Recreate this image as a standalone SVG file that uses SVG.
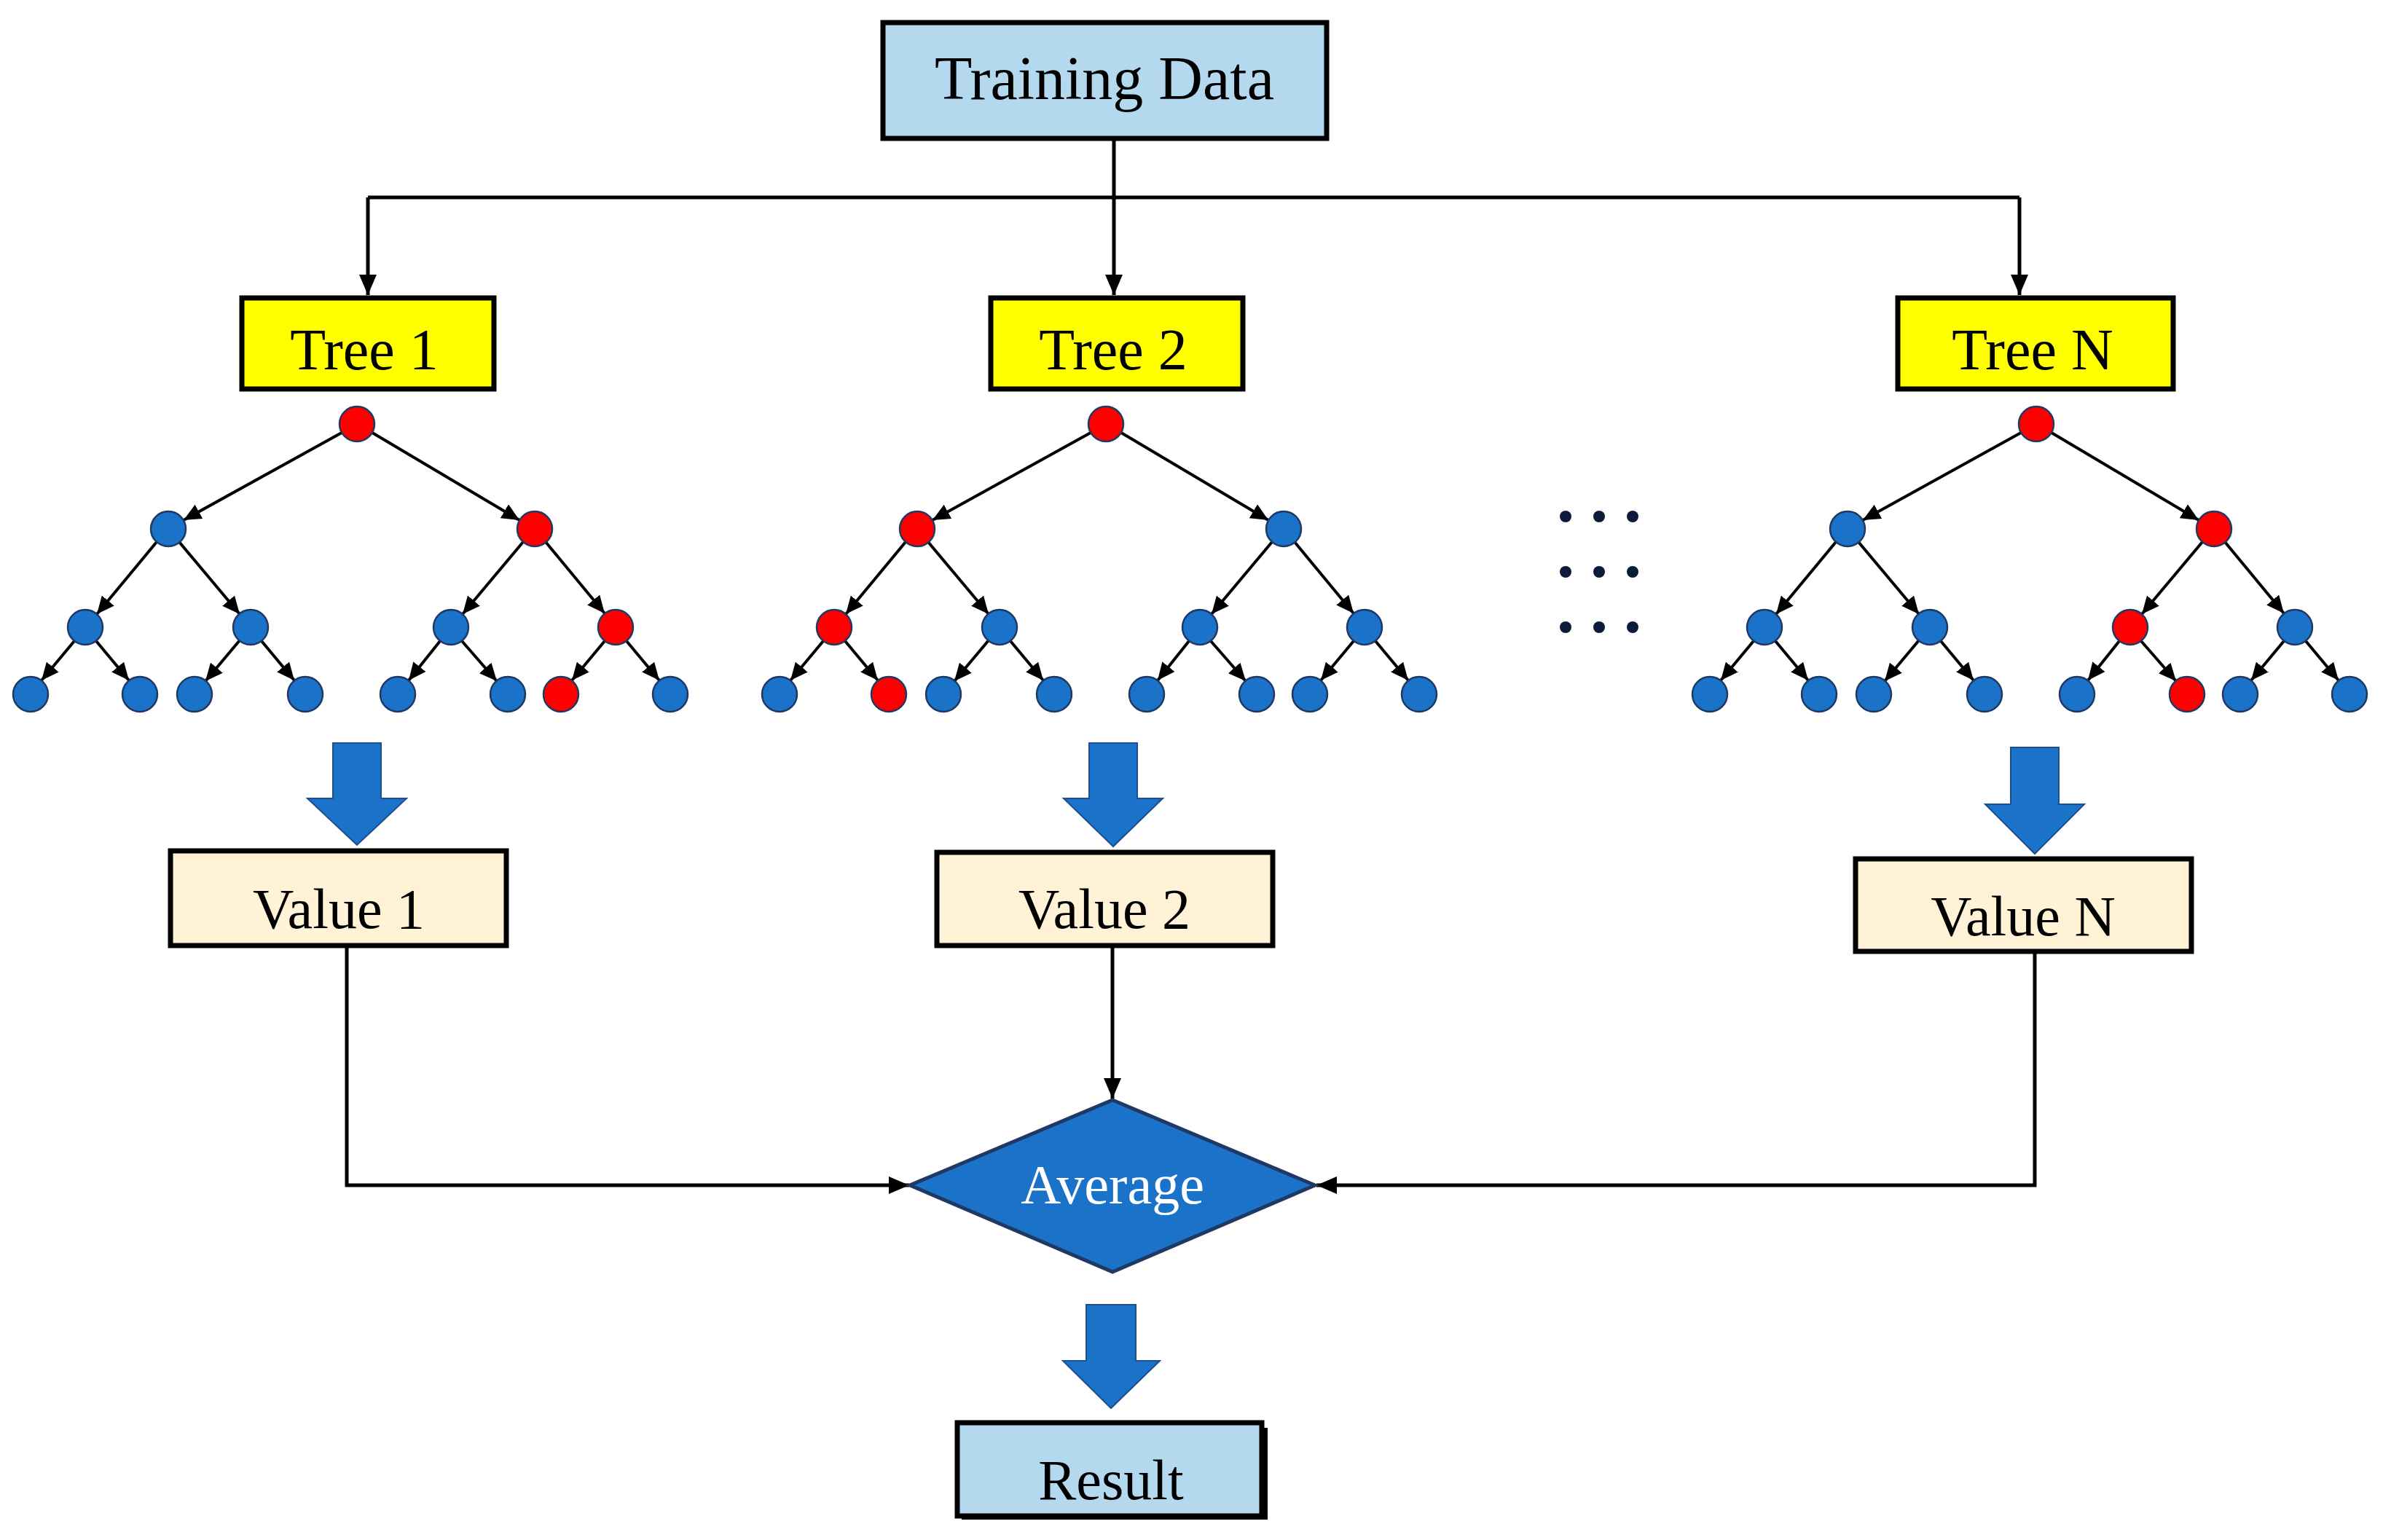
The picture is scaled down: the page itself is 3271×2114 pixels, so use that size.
<svg xmlns="http://www.w3.org/2000/svg" xmlns:xlink="http://www.w3.org/1999/xlink" width="3271" height="2114" viewBox="0 0 3271 2114">
<style>
text{font-family:"Liberation Serif","Times New Roman",serif;text-anchor:middle;fill:#000}
.box{stroke:#000;stroke-width:7}
.conn{fill:none;stroke:#000;stroke-width:5}
.edge{stroke:#000;stroke-width:4}
.b{fill:#1a73c8;stroke:#1f3864;stroke-width:2.5}
.r{fill:#ff0000;stroke:#1f3864;stroke-width:2.5}
.blk{fill:#1a73c8;stroke:#1f4e8c;stroke-width:2}
</style>
<defs>
<marker id="ah" markerUnits="userSpaceOnUse" markerWidth="26" markerHeight="22" refX="24" refY="11" orient="auto"><path d="M0,0 L24,11 L0,22 Z" fill="#000"/></marker>
<marker id="ah2" markerUnits="userSpaceOnUse" markerWidth="30" markerHeight="24" refX="28" refY="12" orient="auto"><path d="M0,0 L28,12 L0,24 Z" fill="#000"/></marker>
<g id="edges" class="edge">
<line x1="469" y1="594" x2="252" y2="714" marker-end="url(#ah)"/>
<line x1="511" y1="594" x2="713" y2="714" marker-end="url(#ah)"/>
<line x1="215" y1="744" x2="133" y2="843" marker-end="url(#ah)"/>
<line x1="246" y1="744" x2="329" y2="843" marker-end="url(#ah)"/>
<line x1="718" y1="744" x2="635" y2="843" marker-end="url(#ah)"/>
<line x1="749" y1="744" x2="830" y2="842" marker-end="url(#ah)"/>
<line x1="102" y1="880" x2="57" y2="934" marker-end="url(#ah)"/>
<line x1="132" y1="880" x2="177" y2="934" marker-end="url(#ah)"/>
<line x1="329" y1="879" x2="282" y2="935" marker-end="url(#ah)"/>
<line x1="359" y1="880" x2="404" y2="934" marker-end="url(#ah)"/>
<line x1="604" y1="880" x2="561" y2="934" marker-end="url(#ah)"/>
<line x1="634" y1="880" x2="682" y2="935" marker-end="url(#ah)"/>
<line x1="830" y1="880" x2="785" y2="934" marker-end="url(#ah)"/>
<line x1="860" y1="880" x2="905" y2="934" marker-end="url(#ah)"/>
</g>
</defs>
<rect width="3271" height="2114" fill="#fff"/>

<g id="connectors">
<path class="conn" d="M1529,190 V271"/>
<path class="conn" d="M505,271 H2772"/>
<path class="conn" d="M505,271 V405" marker-end="url(#ah2)"/>
<path class="conn" d="M1529,271 V405" marker-end="url(#ah2)"/>
<path class="conn" d="M2772,271 V405" marker-end="url(#ah2)"/>
<path class="conn" d="M476,1298 V1627 H1248" marker-end="url(#ah2)"/>
<path class="conn" d="M1527,1298 V1508" marker-end="url(#ah2)"/>
<path class="conn" d="M2793,1306 V1627 H1807" marker-end="url(#ah2)"/>
</g>

<g id="training-data"><rect class="box" x="1212" y="31" width="609" height="159" fill="#b4d8ee"/><text x="1516" y="136" font-size="84">Training Data</text></g>

<g id="tree1-label"><rect class="box" x="332" y="409" width="346" height="125" fill="#ffff00"/><text x="500" y="507" font-size="80">Tree 1</text></g>
<g id="tree2-label"><rect class="box" x="1360" y="409" width="346" height="125" fill="#ffff00"/><text x="1528" y="507" font-size="80">Tree 2</text></g>
<g id="treeN-label"><rect class="box" x="2605" y="409" width="378" height="125" fill="#ffff00"/><text x="2790" y="507" font-size="80">Tree N</text></g>

<g id="tree1">
<use xlink:href="#edges"/>
<circle class="r" cx="490" cy="582" r="24"/>
<circle class="b" cx="231" cy="726" r="24"/><circle class="r" cx="734" cy="726" r="24"/>
<circle class="b" cx="117" cy="861" r="24"/><circle class="b" cx="344" cy="861" r="24"/><circle class="b" cx="619" cy="861" r="24"/><circle class="r" cx="845" cy="861" r="24"/>
<circle class="b" cx="42" cy="953" r="24"/><circle class="b" cx="192" cy="953" r="24"/><circle class="b" cx="267" cy="953" r="24"/><circle class="b" cx="419" cy="953" r="24"/><circle class="b" cx="546" cy="953" r="24"/><circle class="b" cx="697" cy="953" r="24"/><circle class="r" cx="770" cy="953" r="24"/><circle class="b" cx="920" cy="953" r="24"/>
</g>
<g id="tree2" transform="translate(1028,0)">
<use xlink:href="#edges"/>
<circle class="r" cx="490" cy="582" r="24"/>
<circle class="r" cx="231" cy="726" r="24"/><circle class="b" cx="734" cy="726" r="24"/>
<circle class="r" cx="117" cy="861" r="24"/><circle class="b" cx="344" cy="861" r="24"/><circle class="b" cx="619" cy="861" r="24"/><circle class="b" cx="845" cy="861" r="24"/>
<circle class="b" cx="42" cy="953" r="24"/><circle class="r" cx="192" cy="953" r="24"/><circle class="b" cx="267" cy="953" r="24"/><circle class="b" cx="419" cy="953" r="24"/><circle class="b" cx="546" cy="953" r="24"/><circle class="b" cx="697" cy="953" r="24"/><circle class="b" cx="770" cy="953" r="24"/><circle class="b" cx="920" cy="953" r="24"/>
</g>
<g id="treeN" transform="translate(2305,0)">
<use xlink:href="#edges"/>
<circle class="r" cx="490" cy="582" r="24"/>
<circle class="b" cx="231" cy="726" r="24"/><circle class="r" cx="734" cy="726" r="24"/>
<circle class="b" cx="117" cy="861" r="24"/><circle class="b" cx="344" cy="861" r="24"/><circle class="r" cx="619" cy="861" r="24"/><circle class="b" cx="845" cy="861" r="24"/>
<circle class="b" cx="42" cy="953" r="24"/><circle class="b" cx="192" cy="953" r="24"/><circle class="b" cx="267" cy="953" r="24"/><circle class="b" cx="419" cy="953" r="24"/><circle class="b" cx="546" cy="953" r="24"/><circle class="r" cx="697" cy="953" r="24"/><circle class="b" cx="770" cy="953" r="24"/><circle class="b" cx="920" cy="953" r="24"/>
</g>

<g id="ellipsis" fill="#0d1b3a">
<circle cx="2149" cy="709" r="8"/><circle cx="2195" cy="709" r="8"/><circle cx="2241" cy="709" r="8"/>
<circle cx="2149" cy="785" r="8"/><circle cx="2195" cy="785" r="8"/><circle cx="2241" cy="785" r="8"/>
<circle cx="2149" cy="861" r="8"/><circle cx="2195" cy="861" r="8"/><circle cx="2241" cy="861" r="8"/>
</g>

<g id="block-arrows" class="blk">
<path d="M457,1020 H523 V1096 H558 L490,1160 L422,1096 H457 Z"/>
<path d="M1495,1020 H1561 V1096 H1596 L1528,1162 L1460,1096 H1495 Z"/>
<path d="M2760,1026 H2826 V1104 H2861 L2793,1172 L2725,1104 H2760 Z"/>
<path d="M1491,1791 H1559 V1868 H1592 L1525,1933 L1459,1868 H1491 Z"/>
</g>

<g id="value1"><rect class="box" x="234" y="1168" width="461" height="130" fill="#fff2d6"/><text x="465" y="1274" font-size="78">Value 1</text></g>
<g id="value2"><rect class="box" x="1286" y="1170" width="461" height="128" fill="#fff2d6"/><text x="1516" y="1274" font-size="78">Value 2</text></g>
<g id="valueN"><rect class="box" x="2547" y="1179" width="461" height="127" fill="#fff2d6"/><text x="2777" y="1284" font-size="78">Value N</text></g>

<g id="average"><path d="M1527,1510 L1805,1627 L1527,1746 L1249,1627 Z" fill="#1a73c8" stroke="#1f3864" stroke-width="5"/><text x="1527" y="1652" font-size="76" style="fill:#fff">Average</text></g>

<g id="result"><rect x="1320" y="1960" width="420" height="126" fill="#000"/><rect class="box" x="1314" y="1953" width="418" height="128" fill="#b4d8ee"/><text x="1525" y="2058" font-size="78">Result</text></g>
</svg>
